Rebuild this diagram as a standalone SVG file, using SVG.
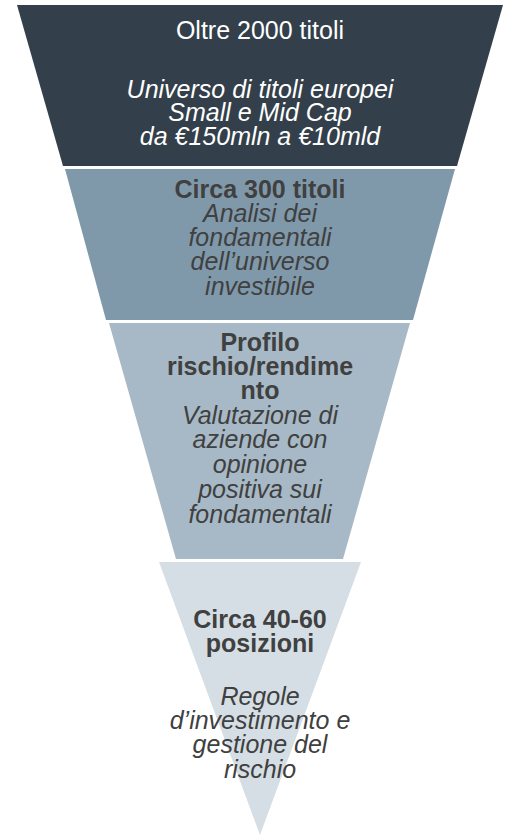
<svg xmlns="http://www.w3.org/2000/svg" width="508" height="837" viewBox="0 0 508 837">
<style>
text{font-family:"Liberation Sans",Arial,sans-serif;font-size:25px;text-anchor:middle}
.w{fill:#ffffff}
.g{fill:#404040}
.b{font-weight:bold}
.i{font-style:italic}
</style>
<rect width="508" height="837" fill="#ffffff"/>
<g id="level1">
<polygon points="17,5 503,5 457,166 63,166" fill="#333f4a"/>
<text class="w" x="260" y="39">Oltre 2000 titoli</text>
<text class="w i" x="260" y="98">Universo di titoli europei</text>
<text class="w i" x="260" y="121">Small e Mid Cap</text>
<text class="w i" x="260" y="145">da €150mln a €10mld</text>
</g>
<g id="level2">
<polygon points="65,169 455,169 413,320 106,320" fill="#7f99ab"/>
<text class="g b" x="260" y="198">Circa 300 titoli</text>
<text class="g i" x="260" y="222">Analisi dei</text>
<text class="g i" x="260" y="246">fondamentali</text>
<text class="g i" x="260" y="270">dell’universo</text>
<text class="g i" x="260" y="295">investibile</text>
</g>
<g id="level3">
<polygon points="109,323 410,323 343,559 176,559" fill="#a7b9c6"/>
<text class="g b" x="260" y="351">Profilo</text>
<text class="g b" x="260" y="375">rischio/rendime</text>
<text class="g b" x="260" y="399">nto</text>
<text class="g i" x="260" y="424">Valutazione di</text>
<text class="g i" x="260" y="448">aziende con</text>
<text class="g i" x="260" y="473">opinione</text>
<text class="g i" x="260" y="498">positiva sui</text>
<text class="g i" x="260" y="523">fondamentali</text>
</g>
<g id="level4">
<polygon points="159,562 361,562 260,835" fill="#d5dee5"/>
<text class="g b" x="260" y="628">Circa 40-60</text>
<text class="g b" x="260" y="652">posizioni</text>
<text class="g i" x="260" y="705">Regole</text>
<text class="g i" x="260" y="729">d’investimento e</text>
<text class="g i" x="260" y="753">gestione del</text>
<text class="g i" x="260" y="778">rischio</text>
</g>
<g id="connectors"></g>
</svg>
